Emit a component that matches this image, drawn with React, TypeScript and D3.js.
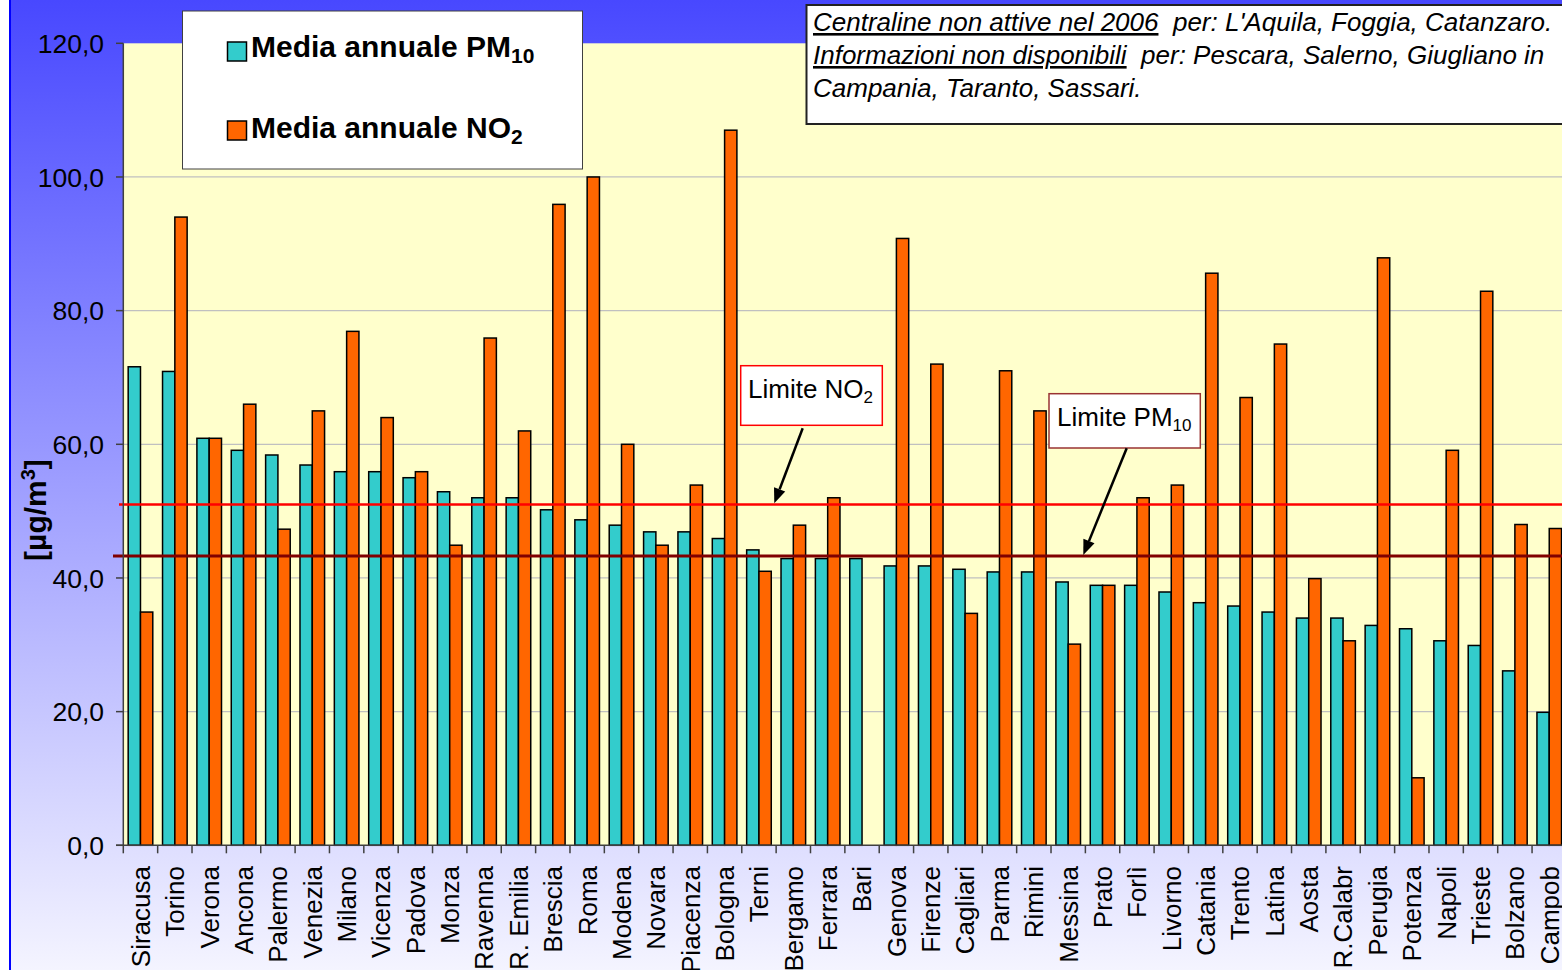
import React from "react";
import * as d3 from "d3";

const cities = ["Siracusa","Torino","Verona","Ancona","Palermo","Venezia","Milano","Vicenza","Padova","Monza","Ravenna","R. Emilia","Brescia","Roma","Modena","Novara","Piacenza","Bologna","Terni","Bergamo","Ferrara","Bari","Genova","Firenze","Cagliari","Parma","Rimini","Messina","Prato","Forlì","Livorno","Catania","Trento","Latina","Aosta","R.Calabr","Perugia","Potenza","Napoli","Trieste","Bolzano","Campob"];
const pm10 = [71.6,70.9,60.9,59.1,58.4,56.9,55.9,55.9,55.0,52.9,52.0,52.0,50.2,48.7,47.9,46.9,46.9,45.9,44.2,42.9,42.9,42.9,41.8,41.8,41.3,40.9,40.9,39.4,38.9,38.9,37.9,36.3,35.8,34.9,34.0,34.0,32.9,32.4,30.6,29.9,26.1,19.9];
const no2: (number | null)[] = [34.9,94.0,60.9,66.0,47.3,65.0,76.9,64.0,55.9,44.9,75.9,62.0,95.9,100.0,60.0,44.9,53.9,107.0,41.0,47.9,52.0,null,90.8,72.0,34.7,71.0,65.0,30.1,38.9,52.0,53.9,85.6,67.0,75.0,39.9,30.6,87.9,10.1,59.1,82.9,48.0,47.4];
const yTicks = [0,20,40,60,80,100,120];
const limitNO2 = 51.0;
const limitPM10 = 43.3;
const seriesKeys = ["pm10","no2"];

const FONT = "'Liberation Sans', Arial, Helvetica, sans-serif";

export default function App() {
  const W = 1562, H = 970;
  const left = 123.3, top = 43.3, bottom = 845.3;
  const step = 34.36;
  const right = left + step * cities.length;
  const x = d3.scaleBand<string>().domain(cities).range([left, right]).paddingInner(0).paddingOuter(0);
  const xs = d3.scaleBand<string>().domain(seriesKeys).range([0, x.bandwidth()]).paddingInner(0).paddingOuter(0.397);
  const y = d3.scaleLinear().domain([0,120]).range([bottom, top]);
  const fmt = (v: number) => v.toFixed(1).replace(".", ",");

  const arrow = (x1: number, y1: number, x2: number, y2: number) => {
    const ang = Math.atan2(y2 - y1, x2 - x1);
    const L = 15, w = 6;
    const bx = x2 - L * Math.cos(ang), by = y2 - L * Math.sin(ang);
    const px = -Math.sin(ang) * w, py = Math.cos(ang) * w;
    return (
      <g>
        <line x1={x1} y1={y1} x2={bx} y2={by} stroke="#000" strokeWidth={2.5} />
        <path d={`M${x2},${y2}L${bx + px},${by + py}L${bx - px},${by - py}Z`} fill="#000" />
      </g>
    );
  };

  return (
    <svg width={W} height={H} style={{ position: "absolute", left: 0, top: 0, fontFamily: FONT }}>
      <defs>
        <linearGradient id="bg" x1="0" y1="0" x2="0" y2="1">
          <stop offset="0" stopColor="#4848FF" />
          <stop offset="1" stopColor="#F4F4FF" />
        </linearGradient>
      </defs>
      <rect x={0} y={0} width={W} height={H} fill="#fff" />
      <rect x={10} y={0} width={W - 10} height={H} fill="url(#bg)" />
      <line x1={10} y1={0} x2={10} y2={H} stroke="#0000FF" strokeWidth={2} />
      {/* plot area */}
      <rect x={left} y={top} width={right - left} height={bottom - top} fill="#FFFFCC" />
      {yTicks.filter(t => t > 0 && t < 120).map(t => (
        <line key={t} x1={left} x2={right} y1={y(t)} y2={y(t)} stroke="#C0C0C0" strokeWidth={1.2} />
      ))}
      {/* bars */}
      {cities.map((c, i) => (
        <g key={c}>
          <rect x={(x(c) as number) + (xs("pm10") as number)} y={y(pm10[i])} width={xs.bandwidth()} height={bottom - y(pm10[i])} fill="#33CCCC" stroke="#000" strokeWidth={1.5} />
          {no2[i] != null && (
            <rect x={(x(c) as number) + (xs("no2") as number)} y={y(no2[i] as number)} width={xs.bandwidth()} height={bottom - y(no2[i] as number)} fill="#FF6600" stroke="#000" strokeWidth={1.5} />
          )}
        </g>
      ))}
      {/* limit lines */}
      <line x1={119} x2={W} y1={y(limitNO2)} y2={y(limitNO2)} stroke="#FF0000" strokeWidth={2.5} />
      <line x1={113} x2={W} y1={y(limitPM10)} y2={y(limitPM10)} stroke="#800000" strokeWidth={3} />
      {/* axes */}
      <line x1={left} x2={left} y1={top} y2={bottom} stroke="#404040" strokeWidth={1.5} />
      <line x1={116} x2={right} y1={bottom} y2={bottom} stroke="#404040" strokeWidth={1.5} />
      {yTicks.map(t => (
        <g key={t}>
          <line x1={116} x2={left} y1={y(t)} y2={y(t)} stroke="#404040" strokeWidth={1.5} />
          <text x={104} y={y(t)} dy="0.36em" textAnchor="end" fontSize={26.5} fill="#000">{fmt(t)}</text>
        </g>
      ))}
      {cities.map((c, i) => (
        <line key={"t" + i} x1={x(c) as number} x2={x(c) as number} y1={bottom} y2={bottom + 8} stroke="#404040" strokeWidth={1.5} />
      ))}
      {cities.map(c => {
        const cx = (x(c) as number) + x.bandwidth() / 2;
        return (
          <text key={"l" + c} transform={`translate(${cx},${866}) rotate(-90)`} dy="0.36em" textAnchor="end" fontSize={26} fill="#000">{c}</text>
        );
      })}
      {/* y title */}
      <text transform="translate(46,510) rotate(-90)" textAnchor="middle" fontSize={30} fontWeight="bold" fill="#000">
        [µg/m<tspan dy={-11} fontSize={20}>3</tspan><tspan dy={11}>]</tspan>
      </text>
      {/* legend */}
      <rect x={182.5} y={11} width={400} height={158} fill="#fff" stroke="#404040" strokeWidth={1} />
      <rect x={227.5} y={42} width={19} height={19} fill="#33CCCC" stroke="#000" strokeWidth={1.5} />
      <text x={251} y={57} fontSize={30} fontWeight="bold" fill="#000">Media annuale PM<tspan dy={6} fontSize={21}>10</tspan></text>
      <rect x={227.5} y={121} width={19} height={19} fill="#FF6600" stroke="#000" strokeWidth={1.5} />
      <text x={251} y={138} fontSize={30} fontWeight="bold" fill="#000">Media annuale NO<tspan dy={6} fontSize={21}>2</tspan></text>
      {/* notes box */}
      <rect x={806.5} y={5} width={W} height={119} fill="#fff" stroke="#222" strokeWidth={2} />
      <g fontSize={26} fontStyle="italic" fill="#000" style={{ whiteSpace: "pre" }}>
        <text x={813} y={31}><tspan textDecoration="underline">Centraline non attive nel 2006</tspan>{"\u00A0 per: L'Aquila, Foggia, Catanzaro."}</text>
        <text x={813} y={64}><tspan textDecoration="underline">Informazioni non disponibili</tspan>{"\u00A0 per: Pescara, Salerno, Giugliano in"}</text>
        <text x={813} y={97}>Campania, Taranto, Sassari.</text>
      </g>
      {/* annotations */}
      <rect x={740.7} y={365.7} width={141.6} height={59.6} fill="#fff" stroke="#FF0000" strokeWidth={1.5} />
      <text x={748} y={398} fontSize={26} fill="#000">Limite NO<tspan dy={5} fontSize={17}>2</tspan></text>
      {arrow(802.7, 428.3, 774.3, 503.3)}
      <rect x={1049} y={393.7} width={151.3} height={54.3} fill="#fff" stroke="#993333" strokeWidth={1.5} />
      <text x={1057} y={426} fontSize={26} fill="#000">Limite PM<tspan dy={5} fontSize={17}>10</tspan></text>
      {arrow(1126.7, 448.3, 1083.3, 555)}
    </svg>
  );
}
